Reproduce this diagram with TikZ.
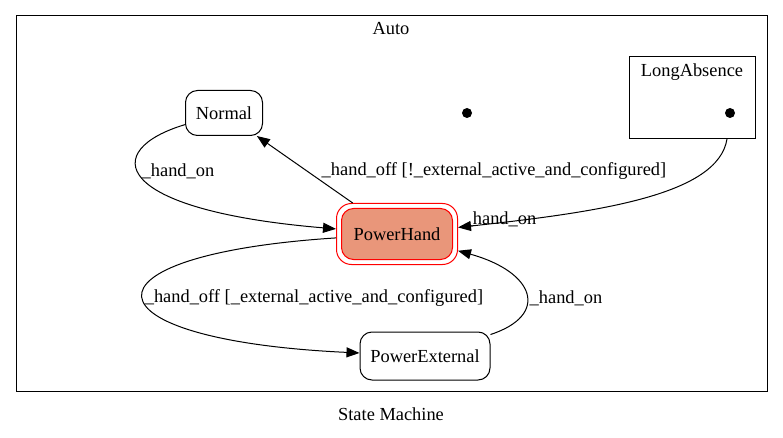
\documentclass[tikz,border=0pt]{standalone}
\usepackage{fontspec}
\setmainfont{Liberation Serif}
\usetikzlibrary{arrows.meta}
\tikzset{
  state/.style={draw, line width=1pt, rounded corners=12pt, inner sep=0pt},
  edge/.style={draw, line width=1pt, -{Triangle[length=13pt,width=10pt]}},
  lbl/.style={inner sep=0pt},
  initdot/.style={circle, fill, inner sep=0pt, minimum size=10pt}
}
\begin{document}
\begin{tikzpicture}
  [x=1pt, y=-1pt, font=\fontsize{18.4}{20}\selectfont]
  \useasboundingbox (0,0) rectangle (783,438);
  \fill[white] (0,0) rectangle (783,438);
  % clusters
  \draw[line width=1pt] (16,16) rectangle (767,391);
  \node[lbl] (autolbl) at (391,29) {Auto};
  \node[lbl] (smlbl) at (391,414) {State Machine};
  \node[draw, line width=1pt, minimum width=126pt, minimum height=82pt, inner sep=0pt] (la) at (692,98) {};
  \node[lbl] (lalbl) at (692,72) {LongAbsence};
  \coordinate (latail) at (727,139);
  % states
  \node[initdot] (init) at (467,113) {};
  \node[initdot] (lainit) at (730,113) {};
  \node[state, minimum width=77pt, minimum height=45pt] (normal) at (224,113) {Normal};
  \node[state, draw=red, minimum width=121pt, minimum height=61pt, rounded corners=15pt] (ph) at (397,234) {};
  \node[state, draw=red, fill={rgb,255:red,233;green,150;blue,122}, minimum width=111pt, minimum height=51pt] (phin) at (397,234) {PowerHand};
  \node[state, minimum width=130pt, minimum height=48pt] (pe) at (425,356) {PowerExternal};
  % transitions
  \draw[edge] (normal) .. controls (100,150) and (110,210) .. (ph);
  \node[lbl] (l1) at (178,171) {\_hand\_on};
  \draw[edge] (ph) -- (normal);
  \node[lbl] (l2) at (494,171) {\_hand\_off [!\_external\_active\_and\_configured]};
  \draw[edge] (latail) .. controls (718,195) and (600,212) .. (ph);
  \node[lbl] (l3) at (500,219) {\_hand\_on};
  \draw[edge] (ph) .. controls (70,255) and (80,340) .. (pe);
  \node[lbl] (l4) at (314,298) {\_hand\_off [\_external\_active\_and\_configured]};
  \draw[edge] (pe) .. controls (550,315) and (535,272) .. (ph);
  \node[lbl] (l5) at (566,298) {\_hand\_on};
\end{tikzpicture}
\end{document}
